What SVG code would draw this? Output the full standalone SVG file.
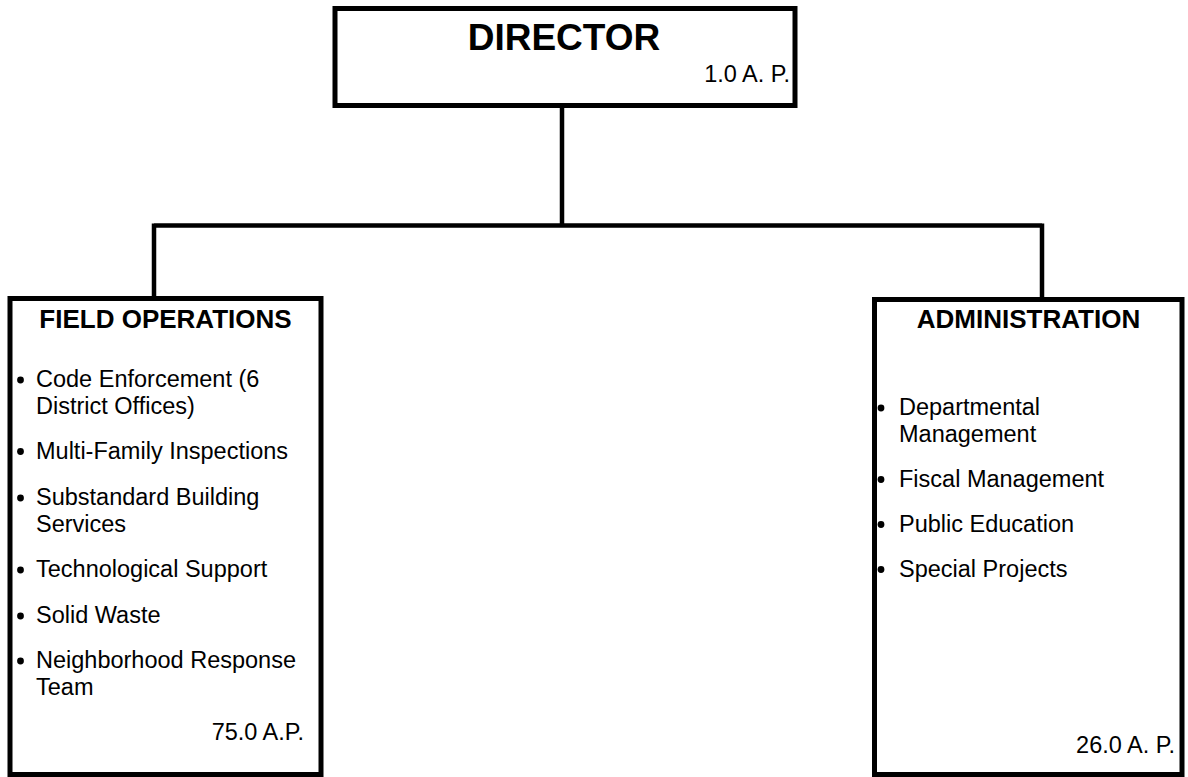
<svg xmlns="http://www.w3.org/2000/svg" width="1188" height="777" viewBox="0 0 1188 777">
<style>
.box{fill:#fff;stroke:#000;stroke-width:5}
.conn{fill:none;stroke:#000;stroke-width:4.5}
text{font-family:"Liberation Sans",Arial,sans-serif;fill:#000}
.t{font-size:23.5px}
.h{font-size:26px;font-weight:bold;text-anchor:middle}
.r{text-anchor:end}
.b{fill:#000}
</style>
<rect width="1188" height="777" fill="#fff"/>
<g id="connectors">
<path class="conn" d="M562 105 V225.5 M154 225.5 H1042 M154 223.5 V298 M1042 223.5 V299"/>
</g>
<g id="director">
<rect class="box" x="335" y="8.5" width="460" height="97"/>
<text x="564" y="50" style="font-size:37px;font-weight:bold;text-anchor:middle">DIRECTOR</text>
<text class="t r" x="790" y="82">1.0 A. P.</text>
</g>
<g id="field-operations">
<rect class="box" x="10" y="298.5" width="311" height="476"/>
<text class="h" x="165.5" y="328">FIELD OPERATIONS</text>
<circle class="b" cx="20.5" cy="380" r="3.4"/>
<text class="t" x="36" y="387">Code Enforcement (6</text>
<text class="t" x="36" y="413.5">District Offices)</text>
<circle class="b" cx="20.5" cy="451.5" r="3.4"/>
<text class="t" x="36" y="458.5">Multi-Family Inspections</text>
<circle class="b" cx="20.5" cy="498" r="3.4"/>
<text class="t" x="36" y="505">Substandard Building</text>
<text class="t" x="36" y="531.5">Services</text>
<circle class="b" cx="20.5" cy="570" r="3.4"/>
<text class="t" x="36" y="577">Technological Support</text>
<circle class="b" cx="20.5" cy="616" r="3.4"/>
<text class="t" x="36" y="623">Solid Waste</text>
<circle class="b" cx="20.5" cy="661" r="3.4"/>
<text class="t" x="36" y="668">Neighborhood Response</text>
<text class="t" x="36" y="695">Team</text>
<text class="t r" x="304" y="740">75.0 A.P.</text>
</g>
<g id="administration">
<rect class="box" x="874.5" y="299.5" width="307.5" height="475"/>
<text class="h" x="1028.5" y="328">ADMINISTRATION</text>
<circle class="b" cx="881" cy="408" r="3.4"/>
<text class="t" x="899" y="415">Departmental</text>
<text class="t" x="899" y="441.5">Management</text>
<circle class="b" cx="881" cy="479.5" r="3.4"/>
<text class="t" x="899" y="486.5">Fiscal Management</text>
<circle class="b" cx="881" cy="524.5" r="3.4"/>
<text class="t" x="899" y="531.5">Public Education</text>
<circle class="b" cx="881" cy="569.5" r="3.4"/>
<text class="t" x="899" y="576.5">Special Projects</text>
<text class="t r" x="1175" y="753">26.0 A. P.</text>
</g>
</svg>
